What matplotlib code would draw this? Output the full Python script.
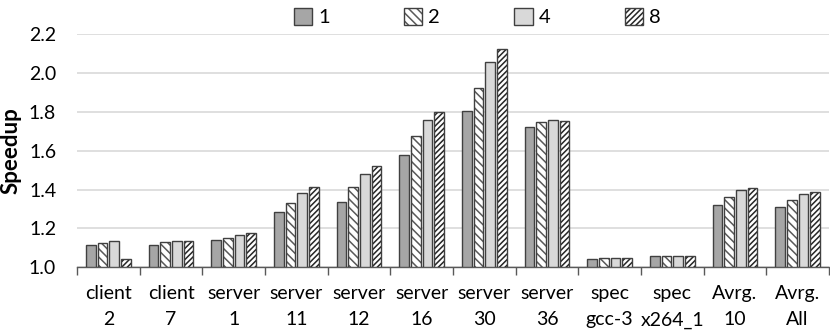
import matplotlib
matplotlib.use("Agg")
import matplotlib.pyplot as plt
import numpy as np

categories = ["client\n2", "client\n7", "server\n1", "server\n11", "server\n12", "server\n16",
              "server\n30", "server\n36", "spec\ngcc-3", "spec\nx264_1", "Avrg.\n10", "Avrg.\nAll"]
series_names = ["1", "2", "4", "8"]
s1 = [1.114, 1.117, 1.138, 1.283, 1.337, 1.577, 1.803, 1.720, 1.041, 1.059, 1.319, 1.312]
s2 = [1.126, 1.129, 1.152, 1.333, 1.411, 1.675, 1.922, 1.749, 1.046, 1.059, 1.361, 1.344]
s4 = [1.135, 1.133, 1.166, 1.383, 1.478, 1.758, 2.057, 1.756, 1.048, 1.059, 1.397, 1.376]
s8 = [1.045, 1.133, 1.176, 1.414, 1.521, 1.798, 2.122, 1.753, 1.048, 1.059, 1.406, 1.389]
yticks = [1.0, 1.2, 1.4, 1.6, 1.8, 2.0, 2.2]

plt.rcParams['font.family'] = ['Lato', 'DejaVu Sans']
plt.rcParams['hatch.linewidth'] = 1.1

fig = plt.figure(figsize=(8.3, 3.34), dpi=100)
ax = fig.add_axes([0.0928, 0.1997, 0.906, 0.698])

x = np.arange(len(categories))
width = 0.155
step = 0.186
edge = '#404040'
styles = [
    dict(face='#a6a6a6', hatch=None, hcol=None),
    dict(face='white', hatch='\\\\\\\\', hcol='#595959'),
    dict(face='#d9d9d9', hatch=None, hcol=None),
    dict(face='white', hatch='//////', hcol='#262626'),
]
data = [s1, s2, s4, s8]
handles = []
for i, (vals, st) in enumerate(zip(data, styles)):
    pos = x + (i - 1.5) * step
    base = 1.0
    h = [v - base for v in vals]
    if st['hatch']:
        ax.bar(pos, h, width, bottom=base, color=st['face'], edgecolor=st['hcol'],
               hatch=st['hatch'], linewidth=0, zorder=3)
    else:
        ax.bar(pos, h, width, bottom=base, color=st['face'], linewidth=0, zorder=3)
    ax.bar(pos, h, width, bottom=base, fill=False, edgecolor=edge, linewidth=1.0, zorder=4)

from matplotlib.patches import Patch
import matplotlib.legend_handler as lh
for st, name in zip(styles, series_names):
    if st['hatch']:
        p = Patch(facecolor=st['face'], edgecolor=st['hcol'], hatch=st['hatch'], linewidth=0)
    else:
        p = Patch(facecolor=st['face'], linewidth=0)
    o = Patch(fill=False, edgecolor=edge, linewidth=1.0)
    handles.append((p, o))
fig.legend(handles, series_names, ncol=4, loc='upper center', bbox_to_anchor=(0.575, 1.03),
           frameon=False, fontsize=14.5, handlelength=0.9, handleheight=0.9,
           columnspacing=3.7, handletextpad=0.3,
           handler_map={tuple: lh.HandlerTuple(ndivide=1, pad=0)})

ax.set_xlim(-0.5, len(categories) - 0.5)
ax.set_ylim(1.0, 2.2)
ax.set_yticks(yticks)
ax.set_yticklabels([f"{t:.1f}" for t in yticks], fontsize=14)
ax.yaxis.grid(True, color='#d9d9d9', linewidth=1.2, zorder=0)
ax.set_axisbelow(True)
for s in ['top', 'right', 'left']:
    ax.spines[s].set_visible(False)
ax.spines['bottom'].set_color('#595959')
ax.spines['bottom'].set_linewidth(1.0)
ax.tick_params(axis='y', length=0, pad=15)
ax.set_xticks(x)
ax.set_xticklabels(categories, fontsize=14, linespacing=1.65)
ax.tick_params(axis='x', which='major', length=0, pad=13)
ax.set_xticks(np.arange(len(categories) + 1) - 0.5, minor=True)
ax.tick_params(axis='x', which='minor', length=6, color='#595959', width=1.0, direction='out')
ax.set_ylabel("Speedup", fontsize=16, fontweight='bold', labelpad=5)

fig.savefig("out.png", dpi=100)
